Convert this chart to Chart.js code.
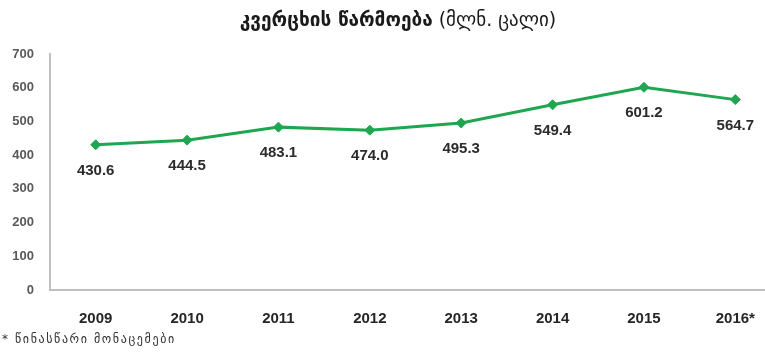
<!DOCTYPE html>
<html>
<head>
<meta charset="utf-8">
<script src="https://cdn.jsdelivr.net/npm/chart.js@4/dist/chart.umd.min.js"></script>
<style>
  html, body { margin: 0; padding: 0; background: #fff; overflow: hidden; }
  body { width: 765px; height: 353px; position: relative; }
  #wrap { position: absolute; left: 0; top: 0; width: 800px; height: 353px; }
  #title {
    position: absolute; left: 0; width: 796px; top: 8px; text-align: center;
    font-family: "DejaVu Sans", sans-serif; font-size: 19px; color: #1a1a1a;
  }
  #title b { font-weight: bold; }
  #note {
    position: absolute; left: 2px; top: 332px; letter-spacing: 1.6px;
    font-family: "DejaVu Sans", sans-serif; font-size: 12px; color: #333;
  }
</style>
</head>
<body>
<div id="wrap"><canvas id="chart" width="800" height="353"></canvas></div>
<div id="title"><b>კვერცხის წარმოება</b> (მლნ. ცალი)</div>
<div id="note">* წინასწარი მონაცემები</div>
<script>
const years = ['2009', '2010', '2011', '2012', '2013', '2014', '2015', '2016*']
const production = [430.6, 444.5, 483.1, 474.0, 495.3, 549.4, 601.2, 564.7]
const yTicks = [0, 100, 200, 300, 400, 500, 600, 700]

const green = '#1ea651'

// values written under each point
const pointLabels = {
  id: 'pointLabels',
  afterDatasetsDraw(chart) {
    const ctx = chart.ctx
    const meta = chart.getDatasetMeta(0)
    ctx.save()
    ctx.font = 'bold 15px "Liberation Sans", Arial, sans-serif'
    ctx.fillStyle = '#2b2b2b'
    ctx.textAlign = 'center'
    ctx.textBaseline = 'middle'
    meta.data.forEach((pt, i) => {
      ctx.fillText(production[i].toFixed(1), pt.x, pt.y + 26)
    })
    ctx.restore()
  }
}

new Chart(document.getElementById('chart'), {
  type: 'line',
  data: {
    labels: years,
    datasets: [{
      data: production,
      borderColor: green,
      backgroundColor: green,
      borderWidth: 3,
      pointStyle: 'rectRot',
      pointRadius: 5,
      pointBorderWidth: 1,
      tension: 0
    }]
  },
  options: {
    responsive: false,
    animation: false,
    layout: { padding: { top: 54, right: 19, bottom: 18, left: 0 } },
    plugins: { legend: { display: false }, tooltip: { enabled: false } },
    scales: {
      x: {
        offset: true,
        grid: { display: false },
        border: { display: true, color: '#bfbfbf', width: 2 },
        ticks: {
          color: '#262626',
          padding: 12,
          font: { family: '"Liberation Sans", Arial, sans-serif', size: 15, weight: 'bold' }
        },
        afterFit(scale) { scale.height = 45 }
      },
      y: {
        min: yTicks[0],
        max: yTicks[yTicks.length - 1],
        afterBuildTicks(scale) { scale.ticks = yTicks.map(v => ({ value: v })) },
        grid: { display: false },
        border: { display: true, color: '#bfbfbf', width: 2 },
        ticks: {
          color: '#595959',
          padding: 8,
          font: { family: '"Liberation Sans", Arial, sans-serif', size: 13, weight: 'bold' }
        },
        afterFit(scale) { scale.width = 50 }
      }
    }
  },
  plugins: [pointLabels]
})
</script>
</body>
</html>
